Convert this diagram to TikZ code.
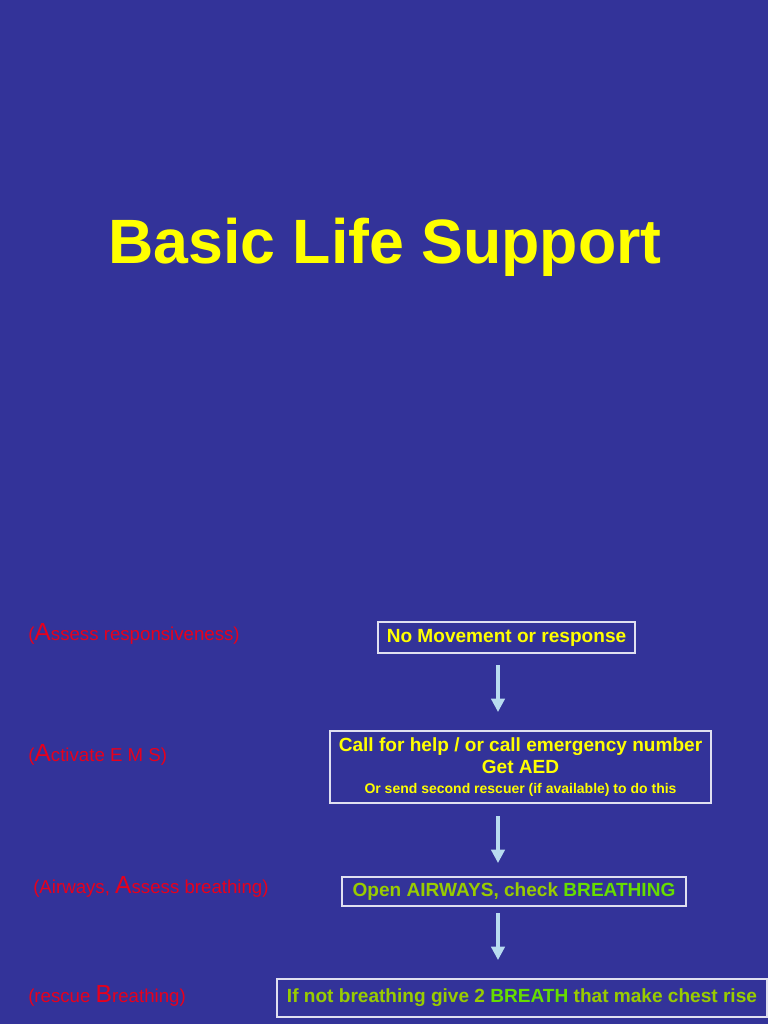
\documentclass[tikz,border=0pt]{standalone}
\usepackage{fontspec}
\setmainfont{Liberation Sans}
\usetikzlibrary{arrows.meta}
\definecolor{bg}{HTML}{333399}
\definecolor{ylw}{HTML}{FFFF00}
\definecolor{lbl}{HTML}{E8001C}
\definecolor{grn}{HTML}{99CC00}
\definecolor{grnb}{HTML}{66DD00}
\definecolor{arr}{HTML}{B8DCF0}
\begin{document}
\begin{tikzpicture}[x=0.75pt,y=-0.75pt,
  box/.style={draw=white!85!bg,line width=0.8pt,inner sep=0pt,font=\bfseries\fontsize{14.3}{16.5}\selectfont,align=center},
  lab/.style={anchor=west,text=lbl,font=\fontsize{14}{16}\selectfont,inner sep=0pt},
  flow/.style={draw=arr,line width=2.4pt,-{Triangle[length=10pt,width=10pt]}}]
\fill[bg] (0,0) rectangle (768,1024);
\useasboundingbox (0,0) rectangle (768,1024);
\node[text=ylw,font=\bfseries\fontsize{47}{52}\selectfont] (title) at (385,247) {Basic Life Support};
\node[box,text=ylw,minimum width=257*0.75pt,minimum height=31*0.75pt] (b1) at (506.5,637.5) {No Movement or response};
\node[box,text=ylw,minimum width=381*0.75pt,minimum height=72*0.75pt] (b2) at (520.5,767) {Call for help / or call emergency number\\Get AED\\[-1pt]{\fontsize{10.5}{12}\selectfont Or send second rescuer (if available) to do this}};
\node[box,text=grn,minimum width=344*0.75pt,minimum height=29*0.75pt] (b3) at (514,891.5) {Open AIRWAYS, check \textcolor{grnb}{BREATHING}};
\node[box,text=grn,minimum width=490*0.75pt,minimum height=38*0.75pt] (b4) at (522,998) {If not breathing give 2 \textcolor{grnb}{BREATH} that make chest rise};
\coordinate (a1s) at (498,665); \coordinate (a1e) at (498,712);
\coordinate (a2s) at (498,816); \coordinate (a2e) at (498,863);
\coordinate (a3s) at (498,913); \coordinate (a3e) at (498,960);
\draw[flow] (a1s) -- (a1e);
\draw[flow] (a2s) -- (a2e);
\draw[flow] (a3s) -- (a3e);
\node[lab] (l1) at (28,634) {({\fontsize{18.5}{16}\selectfont A}ssess responsiveness)};
\node[lab] (l2) at (28,755) {({\fontsize{18.5}{16}\selectfont A}ctivate E M S)};
\node[lab] (l3) at (33,887) {(Airways, {\fontsize{18.5}{16}\selectfont A}ssess breathing)};
\node[lab] (l4) at (28,996) {(rescue {\fontsize{18.5}{16}\selectfont B}reathing)};
\end{tikzpicture}
\end{document}
